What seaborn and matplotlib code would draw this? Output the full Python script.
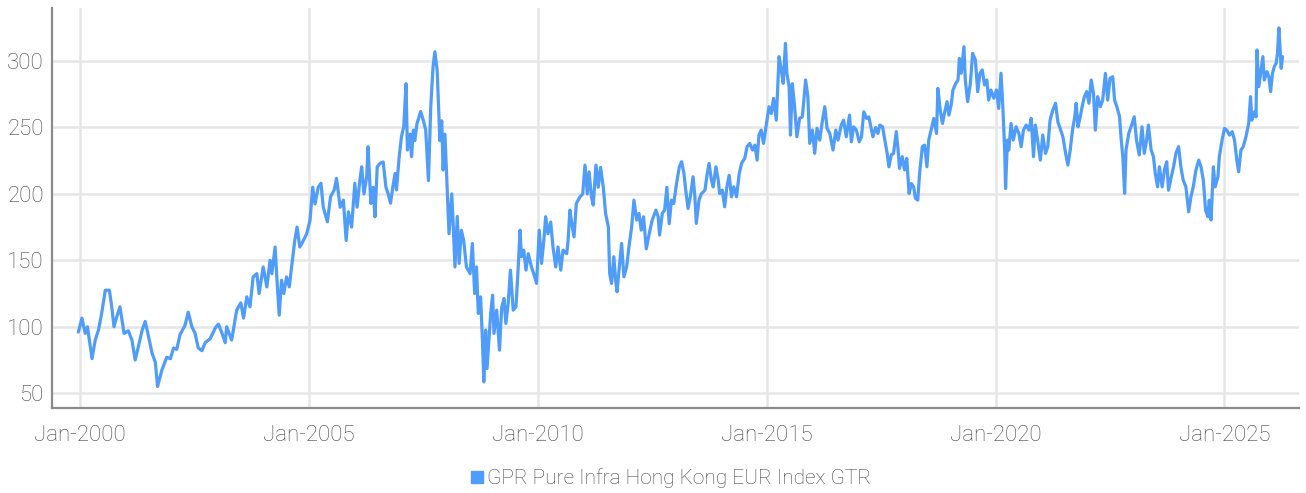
import pandas as pd
import matplotlib.pyplot as plt
import matplotlib.dates as mdates
from matplotlib.lines import Line2D
import seaborn as sns

# --- DATA (decimal years -> index level) ---
series_name = "GPR Pure Infra Hong Kong EUR Index GTR"

years = [
    1999.96, 2000.04, 2000.11, 2000.16, 2000.26, 2000.33, 2000.40, 2000.47, 2000.55, 2000.64,
    2000.69, 2000.74, 2000.80, 2000.87, 2000.96, 2001.05, 2001.13, 2001.20, 2001.27, 2001.35,
    2001.42, 2001.49, 2001.57, 2001.64, 2001.69, 2001.78, 2001.89, 2001.97, 2002.04, 2002.11,
    2002.18, 2002.29, 2002.36, 2002.44, 2002.51, 2002.58, 2002.66, 2002.73, 2002.84, 2002.95,
    2003.02, 2003.09, 2003.17, 2003.20, 2003.31, 2003.42, 2003.51, 2003.57, 2003.64, 2003.71,
    2003.78, 2003.86, 2003.91, 2004.00, 2004.08, 2004.15, 2004.19, 2004.26, 2004.31, 2004.35,
    2004.40, 2004.45, 2004.51, 2004.57, 2004.62, 2004.69, 2004.74, 2004.80, 2004.88, 2004.95,
    2005.02, 2005.08, 2005.13, 2005.20, 2005.26, 2005.31, 2005.40, 2005.47, 2005.55, 2005.60,
    2005.68, 2005.75, 2005.81, 2005.86, 2005.93, 2006.00, 2006.05, 2006.11, 2006.15, 2006.20,
    2006.26, 2006.29, 2006.35, 2006.40, 2006.44, 2006.49, 2006.55, 2006.62, 2006.68, 2006.73,
    2006.78, 2006.83, 2006.88, 2006.91, 2006.97, 2007.02, 2007.07, 2007.12, 2007.15, 2007.21,
    2007.24, 2007.28, 2007.31, 2007.36, 2007.44, 2007.50, 2007.55, 2007.61, 2007.66, 2007.71,
    2007.75, 2007.80, 2007.86, 2007.90, 2007.93, 2007.97, 2008.02, 2008.06, 2008.12, 2008.15,
    2008.19, 2008.24, 2008.28, 2008.33, 2008.38, 2008.44, 2008.52, 2008.57, 2008.62, 2008.66,
    2008.70, 2008.75, 2008.79, 2008.82, 2008.86, 2008.89, 2008.94, 2008.97, 2009.01, 2009.04,
    2009.10, 2009.16, 2009.21, 2009.26, 2009.30, 2009.35, 2009.40, 2009.46, 2009.52, 2009.57,
    2009.61, 2009.64, 2009.69, 2009.74, 2009.79, 2009.86, 2009.93, 2009.97, 2010.03, 2010.08,
    2010.13, 2010.17, 2010.22, 2010.28, 2010.33, 2010.39, 2010.44, 2010.50, 2010.55, 2010.63,
    2010.66, 2010.70, 2010.74, 2010.79, 2010.84, 2010.92, 2010.98, 2011.03, 2011.08, 2011.12,
    2011.17, 2011.21, 2011.27, 2011.32, 2011.37, 2011.43, 2011.48, 2011.54, 2011.57, 2011.61,
    2011.66, 2011.70, 2011.73, 2011.78, 2011.83, 2011.88, 2011.94, 2011.99, 2012.05, 2012.10,
    2012.16, 2012.21, 2012.26, 2012.31, 2012.37, 2012.45, 2012.50, 2012.58, 2012.63, 2012.66,
    2012.72, 2012.77, 2012.82, 2012.87, 2012.92, 2012.97, 2013.03, 2013.09, 2013.14, 2013.19,
    2013.23, 2013.28, 2013.33, 2013.39, 2013.43, 2013.46, 2013.52, 2013.57, 2013.65, 2013.70,
    2013.74, 2013.79, 2013.83, 2013.89, 2013.94, 2013.97, 2014.03, 2014.08, 2014.13, 2014.18,
    2014.23, 2014.28, 2014.34, 2014.40, 2014.45, 2014.52, 2014.57, 2014.63, 2014.69, 2014.74,
    2014.79, 2014.83, 2014.88, 2014.93, 2014.99, 2015.05, 2015.10, 2015.15, 2015.21, 2015.27,
    2015.32, 2015.36, 2015.41, 2015.44, 2015.49, 2015.52, 2015.56, 2015.61, 2015.66, 2015.72,
    2015.78, 2015.85, 2015.90, 2015.94, 2016.00, 2016.05, 2016.10, 2016.16, 2016.22, 2016.27,
    2016.32, 2016.38, 2016.45, 2016.51, 2016.56, 2016.63, 2016.68, 2016.74, 2016.81, 2016.85,
    2016.90, 2016.96, 2017.02, 2017.07, 2017.12, 2017.18, 2017.23, 2017.32, 2017.38, 2017.43,
    2017.47, 2017.53, 2017.58, 2017.63, 2017.67, 2017.72, 2017.77, 2017.83, 2017.87, 2017.90,
    2017.96, 2018.01, 2018.06, 2018.11, 2018.16, 2018.21, 2018.25, 2018.30, 2018.34, 2018.40,
    2018.45, 2018.50, 2018.54, 2018.60, 2018.65, 2018.71, 2018.74, 2018.79, 2018.84, 2018.89,
    2018.94, 2018.98, 2019.03, 2019.07, 2019.13, 2019.18, 2019.21, 2019.25, 2019.31, 2019.34,
    2019.39, 2019.45, 2019.50, 2019.56, 2019.61, 2019.66, 2019.71, 2019.76, 2019.81, 2019.85,
    2019.90, 2019.96, 2020.02, 2020.07, 2020.12, 2020.16, 2020.20, 2020.22, 2020.26, 2020.29,
    2020.34, 2020.39, 2020.45, 2020.51, 2020.56, 2020.61, 2020.67, 2020.73, 2020.78, 2020.83,
    2020.87, 2020.92, 2020.98, 2021.03, 2021.09, 2021.14, 2021.19, 2021.25, 2021.31, 2021.36,
    2021.41, 2021.47, 2021.53, 2021.58, 2021.63, 2021.68, 2021.73, 2021.76, 2021.80, 2021.85,
    2021.89, 2021.94, 2021.99, 2022.04, 2022.09, 2022.14, 2022.18, 2022.23, 2022.29, 2022.34,
    2022.40, 2022.45, 2022.50, 2022.56, 2022.60, 2022.65, 2022.71, 2022.74, 2022.78, 2022.82,
    2022.85, 2022.91, 2022.96, 2023.03, 2023.08, 2023.14, 2023.20, 2023.25, 2023.30, 2023.34,
    2023.40, 2023.45, 2023.49, 2023.54, 2023.58, 2023.64, 2023.69, 2023.74, 2023.78, 2023.84,
    2023.89, 2023.94, 2024.00, 2024.05, 2024.10, 2024.16, 2024.22, 2024.27, 2024.32, 2024.38,
    2024.44, 2024.49, 2024.54, 2024.59, 2024.64, 2024.67, 2024.71, 2024.76, 2024.80, 2024.86,
    2024.89, 2024.95, 2025.00, 2025.05, 2025.11, 2025.17, 2025.22, 2025.27, 2025.31, 2025.36,
    2025.41, 2025.47, 2025.53, 2025.57, 2025.60, 2025.66, 2025.69, 2025.71, 2025.75, 2025.80,
    2025.84, 2025.87, 2025.93, 2025.97, 2026.01, 2026.05, 2026.09, 2026.13, 2026.16, 2026.19,
    2026.24, 2026.27,
]

values = [
    96, 106.5, 95, 100, 76, 90, 97.5, 110, 127.5, 127.5,
    115, 100, 107.5, 115, 95, 97, 90, 75, 85, 97,
    104, 93, 80, 73.5, 55, 67, 77, 76, 84, 83,
    94, 101, 111, 100, 95, 84, 82, 88, 91, 99,
    102, 96, 88, 100, 90, 112.5, 118, 106.5, 122.5, 115,
    137.5, 140, 125, 145, 130, 150, 140, 160, 130, 108.7,
    135, 125, 137.5, 130, 145, 165, 175, 160, 165, 170,
    180, 205, 192.5, 205, 208, 190, 179, 198, 203, 211.7,
    190, 195.3, 165, 186.5, 175, 208, 190, 210, 220.4, 200,
    213, 235.5, 192.8, 205, 182.8, 220.4, 223, 224, 205, 200,
    193, 205, 215.4, 203, 228, 243, 250.5, 283, 233, 245,
    228, 248, 240, 253, 262, 255, 248, 210, 265.6, 295.7,
    307, 293, 240, 255, 218, 245, 203, 170, 200, 178,
    145, 183, 147.7, 172.6, 165, 145, 140, 162.7, 125, 145,
    110, 122.5, 90, 58.5, 97.5, 68.6, 95, 110, 123.8, 95,
    112.5, 82.4, 115, 121.3, 102.5, 117.5, 142.6, 112.5, 115, 145,
    172.7, 152.7, 157.7, 142.6, 155, 145, 137.6, 132.6, 172.7, 147.7,
    165, 182.8, 170, 178.8, 160, 145, 160, 142.6, 157.7, 155,
    165, 187.8, 177.6, 167.6, 192.8, 197.8, 200, 221.7, 200, 216.6,
    197.8, 191.6, 221.7, 205, 220, 205, 185.3, 175.2, 140, 132.6,
    152.7, 135, 126.3, 145, 162.7, 137.6, 145, 160, 175.2, 195.3,
    180.3, 185.3, 172.7, 182.8, 158.7, 172.7, 180.3, 187.8, 182.8, 169,
    185.3, 187.8, 205, 177.6, 195.3, 192.8, 208, 220.4, 224.2, 215.4,
    202.8, 189, 197.8, 212.9, 197.8, 177.8, 195.3, 200, 202.8, 215.4,
    223, 210.4, 205.3, 220.4, 210.4, 200.3, 202.8, 190.3, 205.3, 214,
    197.8, 205.3, 197.8, 215.4, 223, 226.7, 235.5, 238, 233, 236.7,
    225.4, 244.3, 248, 238, 251.8, 265.6, 260.5, 271.9, 255.5, 303.3,
    293, 283.2, 313.3, 290.8, 280.7, 244.3, 283, 265.6, 243, 257,
    258, 285.7, 273, 238, 248, 230.5, 249.3, 240.5, 255.5, 265.6,
    249.3, 245.5, 233, 248, 240.5, 251.8, 255.5, 243, 259.3, 239.2,
    250.5, 248, 239.2, 243, 261.8, 256.8, 258, 243, 250, 245.5,
    251.8, 250.5, 240.5, 230.5, 220.4, 229.3, 230.5, 246.8, 233, 219.2,
    228, 218, 226.7, 200.3, 207.8, 205.3, 196.6, 195.3, 215.4, 235.5,
    236.7, 220.4, 240.5, 249.3, 256.8, 245.5, 279.4, 263.1, 253, 261.8,
    269.4, 259.3, 266.9, 278.2, 283.2, 285.7, 302, 290.8, 310.8, 285.7,
    269.4, 283.2, 305.8, 300.8, 276.9, 290.8, 293.3, 282, 285.7, 270.6,
    278.2, 272, 278.2, 264.3, 290.8, 265.6, 233, 204.1, 240.5, 233,
    253, 240.5, 250.5, 245.5, 235.5, 248, 251.8, 248, 256.8, 228,
    251.8, 240.5, 225.4, 244.3, 230.5, 235.5, 255.5, 263, 268.2, 254.3,
    249.3, 243, 230.5, 221.7, 233, 248, 258, 268.2, 250.5, 258,
    265.6, 273.2, 277, 268.2, 285.7, 275.7, 248, 273.2, 265.6, 270.6,
    290.7, 270.6, 287, 288.2, 270.6, 265.6, 258, 243, 228, 200.4,
    233, 245.5, 250.5, 258, 240.5, 229.3, 250.5, 230.5, 240.5, 251.8,
    233, 228, 215.4, 205.3, 220.4, 205.3, 218, 224.2, 202.8, 212.9,
    220.4, 230.5, 235.5, 220.4, 210.4, 205.3, 186.5, 197.8, 205.3, 218,
    225.4, 220.4, 210.4, 187.8, 182.8, 195.3, 180.3, 220.4, 205.3, 212.9,
    228, 240.5, 249.3, 248, 244.3, 246.8, 240.5, 225.4, 216.6, 233,
    235.5, 243, 253, 273.2, 255.5, 261.8, 258, 308.3, 280.7, 293.3,
    303.3, 285.7, 292, 288.2, 277, 290.8, 295.8, 298.3, 305.8, 325,
    294.5, 303.3,
]

y_ticks = [50, 100, 150, 200, 250, 300]
x_tick_years = [2000, 2005, 2010, 2015, 2020, 2025]

line_color = "#4f9cf9"
grid_color = "#e6e6e6"
text_color = "#444444"


def to_date(y):
    base = int(y)
    return pd.Timestamp(base, 1, 1) + pd.Timedelta(days=(y - base) * 365.25)


df = pd.DataFrame({"date": [to_date(y) for y in years], "value": values})

sns.set_theme(style="white")
plt.rcParams["font.family"] = ["Roboto", "DejaVu Sans"]
plt.rcParams["font.weight"] = "light"

fig = plt.figure(figsize=(13.06, 4.93), dpi=100)
ax = fig.add_axes([0.04, 0.172, 0.955, 0.812])

sns.lineplot(data=df, x="date", y="value", ax=ax, color=line_color, linewidth=2.3)

# axes limits and ticks
ax.set_xlim(to_date(1999.39), to_date(2026.64))
ax.set_ylim(38.7, 340)
ax.set_yticks(y_ticks)
ax.set_xticks([pd.Timestamp(y, 1, 1) for y in x_tick_years])
ax.xaxis.set_major_formatter(mdates.DateFormatter("%b-%Y"))
ax.set_xlabel("")
ax.set_ylabel("")

ax.grid(True, color=grid_color, linewidth=1.8)
ax.set_axisbelow(True)
for side in ["top", "right"]:
    ax.spines[side].set_visible(False)
for side in ["left", "bottom"]:
    ax.spines[side].set_color("#8a8a8a")
    ax.spines[side].set_linewidth(1.6)

ax.tick_params(axis="both", length=0, labelsize=16, labelcolor=text_color)
ax.tick_params(axis="x", pad=12)
ax.tick_params(axis="y", pad=6)

# legend with a square marker
handle = Line2D([], [], marker="s", linestyle="none", color=line_color, markersize=8)
fig.legend([handle], [series_name], loc="center", bbox_to_anchor=(0.513, 0.03),
           frameon=False, fontsize=15, labelcolor=text_color,
           handletextpad=0.1, handlelength=0.8)

fig.savefig("out.png", dpi=100)
